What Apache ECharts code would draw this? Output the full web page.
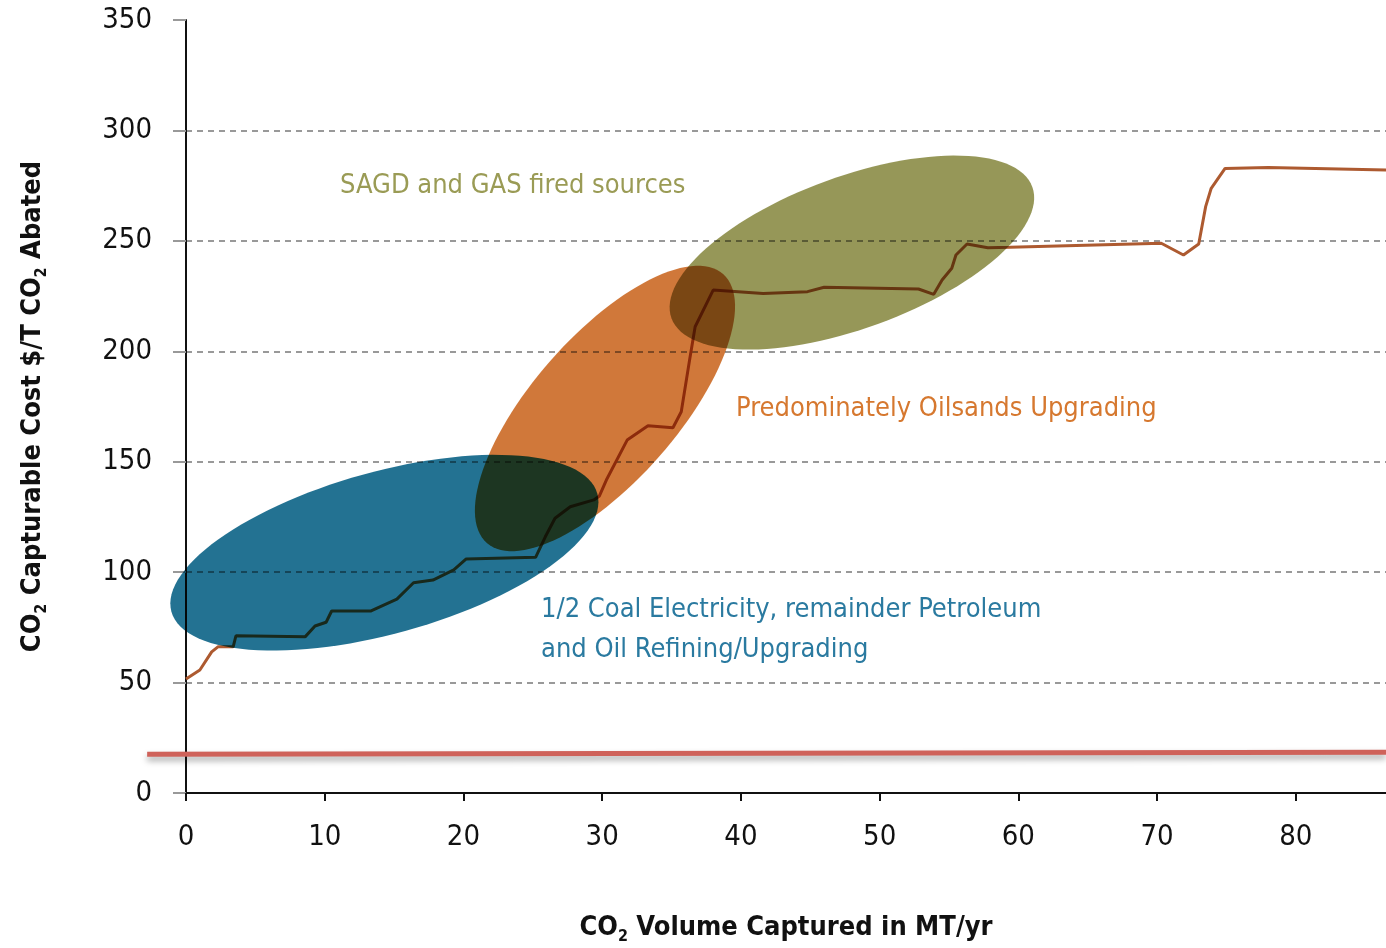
<!DOCTYPE html>
<html>
<head>
<meta charset="utf-8">
<title>CO2 capture cost curve</title>
<script src="https://cdn.jsdelivr.net/npm/echarts@6/dist/echarts.min.js"></script>
<style>
  html, body { margin: 0; padding: 0; background: #fff; }
  #costCurve { width: 1386px; height: 948px; }
</style>
</head>
<body>
<div id="costCurve"></div>
<script>
  // cumulative volume captured (MT/yr) and capture cost at that point ($/T)
  var capturedVolume = [0, 1.0, 1.85, 2.3, 3.4, 3.6, 8.6, 9.3, 10.1, 10.5, 13.3, 15.2, 16.4, 17.8, 19.3, 20.2,
    25.2, 25.9, 26.6, 27.7, 29.4, 29.8, 30.3, 31.8, 33.3, 35.1, 35.7, 36.3, 36.7, 38.0, 41.6, 44.8, 46.0,
    52.8, 53.9, 54.5, 55.2, 55.5, 56.3, 57.8, 59.4, 70.3, 71.9, 73.0, 73.5, 73.9, 74.9, 78.0, 86.5]
  var captureCost = [51.6, 55.7, 63.9, 66.2, 66.2, 71.2, 70.8, 75.6, 77.3, 82.4, 82.4, 87.8, 95.2, 96.4, 101.0, 106.0,
    106.7, 116.0, 124.4, 129.6, 132.7, 134.5, 141.7, 159.8, 166.3, 165.4, 172.6, 196.1, 211.1, 227.7, 226.2, 227.0, 229.0,
    228.2, 225.8, 232.3, 237.6, 243.6, 248.6, 246.9, 247.1, 248.9, 243.6, 248.6, 265.5, 273.8, 282.8, 283.2, 282.1]

  // red reference line near the bottom (starts a little left of the y axis)
  var refVolume = [-2.8, 86.5]
  var refCost = [17.6, 18.4]

  var xTicks = [0, 10, 20, 30, 40, 50, 60, 70, 80]
  var yTicks = [0, 50, 100, 150, 200, 250, 300, 350]

  // source groups, centre of each shaded zone in data units
  var zoneNames = ['Coal / Petroleum', 'Oilsands Upgrading', 'SAGD and GAS']
  var zoneVolume = [14.3, 30.2, 48.0]
  var zoneCost = [108.8, 174.1, 244.7]

  // zone shapes (pixels / degrees) and colours
  var zoneStyle = [
    { rx: 221, ry: 81, tilt: 15.5, color: '#237292' },
    { rx: 179, ry: 72.5, tilt: 48.7, color: '#D0783A' },
    { rx: 192, ry: 76, tilt: 20, color: '#969758' },
  ]

  var narrow = "'Liberation Sans Narrow', 'DejaVu Sans Condensed', 'Liberation Sans', sans-serif"

  var linePoints = capturedVolume.map(function (v, i) { return [v, captureCost[i]] })
  var refPoints = refVolume.map(function (v, i) { return [v, refCost[i]] })
  var zoneData = zoneNames.map(function (n, i) { return [zoneVolume[i], zoneCost[i]] })

  var subRich = {
    s: { fontSize: 16, fontWeight: 'bold', fontFamily: narrow, lineHeight: 16, padding: [18, 0, 0, 0], color: '#111' },
  }

  var chart = echarts.init(document.getElementById('costCurve'))
  chart.setOption({
    backgroundColor: '#fff',
    animation: false,
    grid: { left: 186, right: 0, top: 20, bottom: 155, outerBoundsMode: 'none', containLabel: false },
    xAxis: {
      type: 'value',
      min: 0,
      max: 86.5,
      interval: 10,
      name: 'CO{s|2} Volume Captured in MT/yr',
      nameLocation: 'middle',
      nameGap: 120,
      nameTextStyle: { fontFamily: narrow, fontWeight: 'bold', fontSize: 27, color: '#111', lineHeight: 30, rich: subRich },
      axisLine: { lineStyle: { color: '#111', width: 2 } },
      axisTick: { show: true, length: 8, lineStyle: { color: '#111', width: 2 } },
      axisLabel: {
        margin: 30,
        fontFamily: narrow,
        fontSize: 29,
        color: '#111',
        showMaxLabel: false,
        formatter: function (v) { return xTicks.indexOf(v) >= 0 ? String(v) : '' },
      },
      splitLine: { show: false },
    },
    yAxis: {
      type: 'value',
      min: 0,
      max: 350,
      interval: 50,
      name: 'CO{s|2} Capturable Cost $/T CO{s|2} Abated',
      nameLocation: 'middle',
      nameGap: 138,
      nameTextStyle: { fontFamily: narrow, fontWeight: 'bold', fontSize: 27, color: '#111', lineHeight: 30, rich: subRich },
      axisLine: { show: true, lineStyle: { color: '#111', width: 2 } },
      axisTick: { show: true, length: 13, lineStyle: { color: '#999', width: 2 } },
      axisLabel: {
        margin: 34,
        fontFamily: narrow,
        fontSize: 29,
        color: '#111',
        formatter: function (v) { return yTicks.indexOf(v) >= 0 ? String(v) : '' },
      },
      splitLine: { show: true, showMaxLine: false, lineStyle: { color: '#999', width: 2, type: [6, 5] } },
    },
    graphic: [
      {
        type: 'text', left: 340, top: 172,
        style: { text: 'SAGD and GAS fired sources', fill: '#9A9B55', font: '27px ' + narrow },
      },
      {
        type: 'text', left: 736, top: 395,
        style: { text: 'Predominately Oilsands Upgrading', fill: '#D6782F', font: '27px ' + narrow },
      },
      {
        type: 'text', left: 541, top: 590,
        style: { text: '1/2 Coal Electricity, remainder Petroleum\nand Oil Refining/Upgrading', fill: '#2A7AA0', font: '27px ' + narrow, lineHeight: 40 },
      },
    ],
    series: [
      {
        name: 'Cost curve',
        type: 'line',
        z: 2,
        data: linePoints,
        showSymbol: false,
        lineStyle: { color: '#AD5A30', width: 3 },
      },
      {
        name: 'Zones',
        type: 'custom',
        z: 3,
        blendMode: 'multiply',
        data: zoneData,
        renderItem: function (params, api) {
          var c = api.coord([api.value(0), api.value(1)])
          var z = zoneStyle[params.dataIndex]
          var t = z.tilt * Math.PI / 180
          var pts = []
          for (var k = 0; k < 120; k++) {
            var a = k / 120 * Math.PI * 2
            var ex = z.rx * Math.cos(a)
            var ey = z.ry * Math.sin(a)
            pts.push([c[0] + ex * Math.cos(t) - ey * Math.sin(t), c[1] - ex * Math.sin(t) - ey * Math.cos(t)])
          }
          return { type: 'polygon', shape: { points: pts }, style: { fill: z.color } }
        },
      },
      {
        name: 'Reference',
        type: 'custom',
        z: 3,
        clip: false,
        data: [refPoints[0].concat(refPoints[1])],
        renderItem: function (params, api) {
          var p0 = api.coord([api.value(0), api.value(1)])
          var p1 = api.coord([api.value(2), api.value(3)])
          return {
            type: 'line',
            shape: { x1: p0[0], y1: p0[1], x2: p1[0], y2: p1[1] },
            style: {
              stroke: '#CF625A', lineWidth: 5,
              shadowColor: 'rgba(0,0,0,0.35)', shadowBlur: 6, shadowOffsetY: 4,
            },
          }
        },
      },
    ],
  })
</script>
</body>
</html>
